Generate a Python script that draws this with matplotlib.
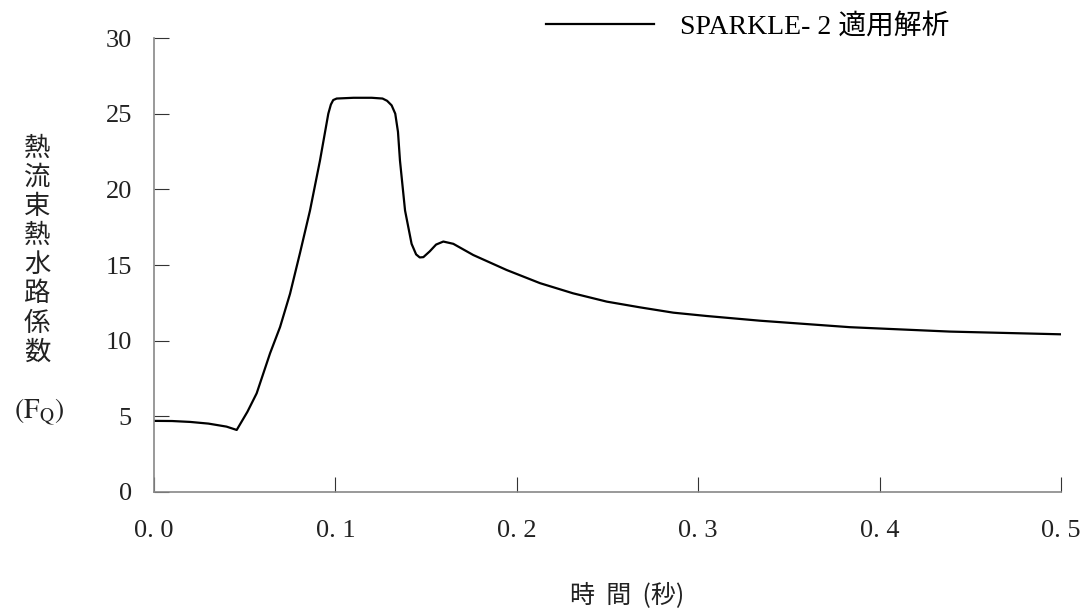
import matplotlib
matplotlib.use('Agg')
import matplotlib.pyplot as plt

plt.rcParams['font.family'] = ['Liberation Serif', 'Noto Sans CJK JP']
plt.rcParams['mathtext.fontset'] = 'stix'

# time (s) and heat flux hot channel factor
t = [0.0, 0.01, 0.02, 0.03, 0.04, 0.0456, 0.0515, 0.0566, 0.064, 0.0695, 0.075,
     0.0805, 0.086, 0.0915, 0.0961, 0.0975, 0.0988, 0.1007, 0.11, 0.12, 0.126,
     0.1285, 0.131, 0.133, 0.1345, 0.1356, 0.1384, 0.142, 0.1445, 0.1465, 0.1485,
     0.152, 0.1555, 0.1595, 0.165, 0.176, 0.1944, 0.2128, 0.231, 0.2496, 0.268,
     0.2863, 0.3047, 0.334, 0.3837, 0.4388, 0.5]
fq = [4.70, 4.69, 4.63, 4.52, 4.32, 4.10, 5.30, 6.52, 9.17, 10.9, 13.1,
      15.8, 18.6, 21.9, 25.0, 25.6, 25.9, 26.0, 26.05, 26.05, 26.0,
      25.85, 25.55, 25.0, 23.8, 21.9, 18.6, 16.4, 15.7, 15.5, 15.52,
      15.9, 16.35, 16.55, 16.4, 15.66, 14.67, 13.8, 13.13, 12.58, 12.2,
      11.85, 11.63, 11.32, 10.89, 10.6, 10.42]

xticks = [0.0, 0.1, 0.2, 0.3, 0.4, 0.5]
xticklabels = ['0. 0', '0. 1', '0. 2', '0. 3', '0. 4', '0. 5']
yticks = [0, 5, 10, 15, 20, 25, 30]

fig = plt.figure(figsize=(10.89, 6.15), dpi=100)
ax = fig.add_axes([0.1414, 0.2, 0.8329, 0.7382])

ax.plot(t, fq, color='black', lw=1.6, label='SPARKLE- 2 適用解析')

ax.set_xlim(0, 0.5)
ax.set_ylim(0, 30)
ax.set_xticks(xticks)
ax.set_xticklabels(xticklabels)
ax.set_yticks(yticks)

for s in ['top', 'right']:
    ax.spines[s].set_visible(False)
for s in ['left', 'bottom']:
    ax.spines[s].set_color('#888888')
    ax.spines[s].set_linewidth(1.2)

ax.tick_params(axis='both', direction='in', length=11, width=0.8,
               color='#333333', labelsize=19, labelcolor='#222222')
ax.tick_params(axis='x', pad=20)
ax.tick_params(axis='y', pad=16)

# vertical y label
ylab = '熱流束熱水路係数'
fig.text(0.034, 0.593, '\n'.join(ylab), ha='center', va='center',
         fontsize=19, linespacing=1.1, family=['Noto Sans CJK JP'],
         color='#222222')
fig.text(0.036, 0.33, r'$(\mathrm{F}_{\mathrm{Q}})$', ha='center', va='center',
         fontsize=20, color='#222222')

fig.text(0.576, 0.032, '時  間  (秒)', ha='center', va='center',
         fontsize=18, family=['Noto Sans CJK JP'], color='#222222')

leg = ax.legend(loc='center left', bbox_to_anchor=(0.478, 0.956),
                bbox_transform=fig.transFigure, frameon=False,
                handlelength=3.9, handletextpad=0.95,
                prop={'family': ['Liberation Serif', 'Noto Sans CJK JP'], 'size': 20})

fig.savefig('out.png', dpi=100)
